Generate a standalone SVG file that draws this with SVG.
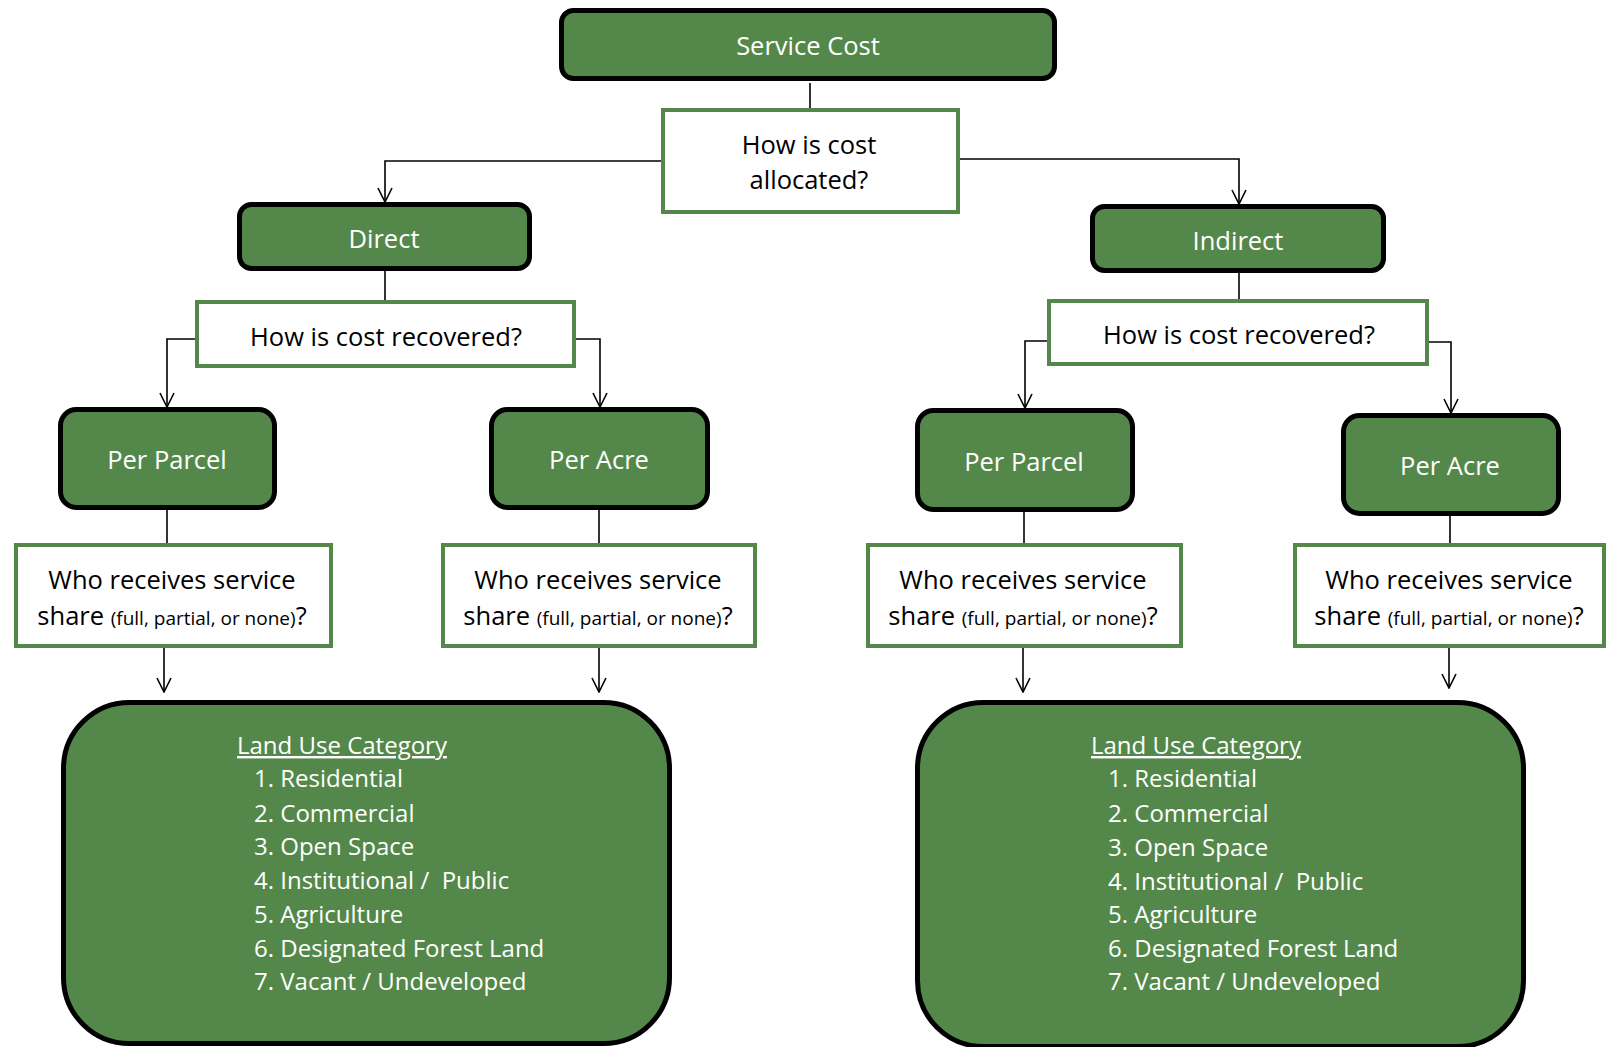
<svg xmlns="http://www.w3.org/2000/svg" width="1606" height="1047" viewBox="0 0 1606 1047">
<defs>
<style>
.dark{fill:#54884a;stroke:#000;stroke-width:5}
.q{fill:#fff;stroke:#54884a;stroke-width:4}
.land{fill:#54884a;stroke:#000;stroke-width:5}
.wt{font-family:"Open Sans","Noto Sans",sans-serif;font-size:25.5px;fill:#fff;text-anchor:middle}
.bt{font-family:"Open Sans","Noto Sans",sans-serif;font-size:25.5px;fill:#000;text-anchor:middle}
.lt{font-family:"Open Sans","Noto Sans",sans-serif;font-size:24px;fill:#fff;white-space:pre}
.c{fill:none;stroke:#000;stroke-width:1.6}
</style>
<marker id="arr" viewBox="0 0 16 16" refX="15" refY="8" markerWidth="16" markerHeight="16" markerUnits="userSpaceOnUse" orient="auto">
<path d="M1,1 L15,8 L1,15" fill="none" stroke="#000" stroke-width="1.6"/>
</marker>
</defs>
<rect width="1606" height="1047" fill="#fff"/>
<g id="connectors">
<path class="c" d="M810,83 V108"/>
<path class="c" d="M661,161 H385 V202" marker-end="url(#arr)"/>
<path class="c" d="M960,159 H1239 V204" marker-end="url(#arr)"/>
<path class="c" d="M385,271 V300"/>
<path class="c" d="M195,339 H167 V407" marker-end="url(#arr)"/>
<path class="c" d="M576,339 H600 V407" marker-end="url(#arr)"/>
<path class="c" d="M167,510 V543"/>
<path class="c" d="M599,510 V543"/>
<path class="c" d="M164,648 V692" marker-end="url(#arr)"/>
<path class="c" d="M599,648 V692" marker-end="url(#arr)"/>
<path class="c" d="M1239,273 V299"/>
<path class="c" d="M1047,341 H1025 V408" marker-end="url(#arr)"/>
<path class="c" d="M1429,342 H1451 V413" marker-end="url(#arr)"/>
<path class="c" d="M1024,512 V543"/>
<path class="c" d="M1450,516 V543"/>
<path class="c" d="M1023,648 V692" marker-end="url(#arr)"/>
<path class="c" d="M1449,648 V688" marker-end="url(#arr)"/>
</g>
<g id="service-cost">
<rect class="dark" x="561.5" y="10.5" width="493" height="68" rx="12"/>
<text class="wt" x="808" y="55">Service Cost</text>
</g>
<g id="allocated">
<rect class="q" x="663" y="110" width="295" height="102"/>
<text class="bt" x="809" y="154">How is cost</text>
<text class="bt" x="809" y="189">allocated?</text>
</g>
<g id="direct">
<rect class="dark" x="239.5" y="204.5" width="290" height="64" rx="12"/>
<text class="wt" x="384" y="248">Direct</text>
</g>
<g id="indirect">
<rect class="dark" x="1092.5" y="206.5" width="291" height="64" rx="12"/>
<text class="wt" x="1238" y="250">Indirect</text>
</g>
<g id="recovered-left">
<rect class="q" x="197" y="302" width="377" height="64"/>
<text class="bt" x="386" y="346">How is cost recovered?</text>
</g>
<g id="recovered-right">
<rect class="q" x="1049" y="301" width="378" height="63"/>
<text class="bt" x="1239" y="344">How is cost recovered?</text>
</g>
<g id="per-parcel-left">
<rect class="dark" x="60.5" y="409.5" width="214" height="98" rx="16"/>
<text class="wt" x="167" y="469">Per Parcel</text>
</g>
<g id="per-acre-left">
<rect class="dark" x="491.5" y="409.5" width="216" height="98" rx="16"/>
<text class="wt" x="599" y="469">Per Acre</text>
</g>
<g id="per-parcel-right">
<rect class="dark" x="917.5" y="410.5" width="215" height="99" rx="16"/>
<text class="wt" x="1024" y="471">Per Parcel</text>
</g>
<g id="per-acre-right">
<rect class="dark" x="1343.5" y="415.5" width="215" height="98" rx="16"/>
<text class="wt" x="1450" y="475">Per Acre</text>
</g>
<g id="who-1">
<rect class="q" x="16" y="545" width="315" height="101"/>
<text class="bt" x="172" y="589">Who receives service</text>
<text class="bt" x="172" y="625">share <tspan font-size="19">(full, partial, or none)</tspan>?</text>
</g>
<g id="who-2">
<rect class="q" x="443" y="545" width="312" height="101"/>
<text class="bt" x="598" y="589">Who receives service</text>
<text class="bt" x="598" y="625">share <tspan font-size="19">(full, partial, or none)</tspan>?</text>
</g>
<g id="who-3">
<rect class="q" x="868" y="545" width="313" height="101"/>
<text class="bt" x="1023" y="589">Who receives service</text>
<text class="bt" x="1023" y="625">share <tspan font-size="19">(full, partial, or none)</tspan>?</text>
</g>
<g id="who-4">
<rect class="q" x="1295" y="545" width="309" height="101"/>
<text class="bt" x="1449" y="589">Who receives service</text>
<text class="bt" x="1449" y="625">share <tspan font-size="19">(full, partial, or none)</tspan>?</text>
</g>
<g id="land-use-left">
<rect class="land" x="63.5" y="702.5" width="606" height="341" rx="66"/>
<text class="lt" x="237" y="754" text-decoration="underline">Land Use Category</text>
<text class="lt" x="254" y="787">1. Residential</text>
<text class="lt" x="254" y="822">2. Commercial</text>
<text class="lt" x="254" y="855">3. Open Space</text>
<text class="lt" x="254" y="889">4. Institutional /  Public</text>
<text class="lt" x="254" y="923">5. Agriculture</text>
<text class="lt" x="254" y="957">6. Designated Forest Land</text>
<text class="lt" x="254" y="990">7. Vacant / Undeveloped</text>
</g>
<g id="land-use-right">
<rect class="land" x="917.5" y="702.5" width="606" height="344" rx="66"/>
<text class="lt" x="1091" y="754" text-decoration="underline">Land Use Category</text>
<text class="lt" x="1108" y="787">1. Residential</text>
<text class="lt" x="1108" y="822">2. Commercial</text>
<text class="lt" x="1108" y="856">3. Open Space</text>
<text class="lt" x="1108" y="890">4. Institutional /  Public</text>
<text class="lt" x="1108" y="923">5. Agriculture</text>
<text class="lt" x="1108" y="957">6. Designated Forest Land</text>
<text class="lt" x="1108" y="990">7. Vacant / Undeveloped</text>
</g>
</svg>
